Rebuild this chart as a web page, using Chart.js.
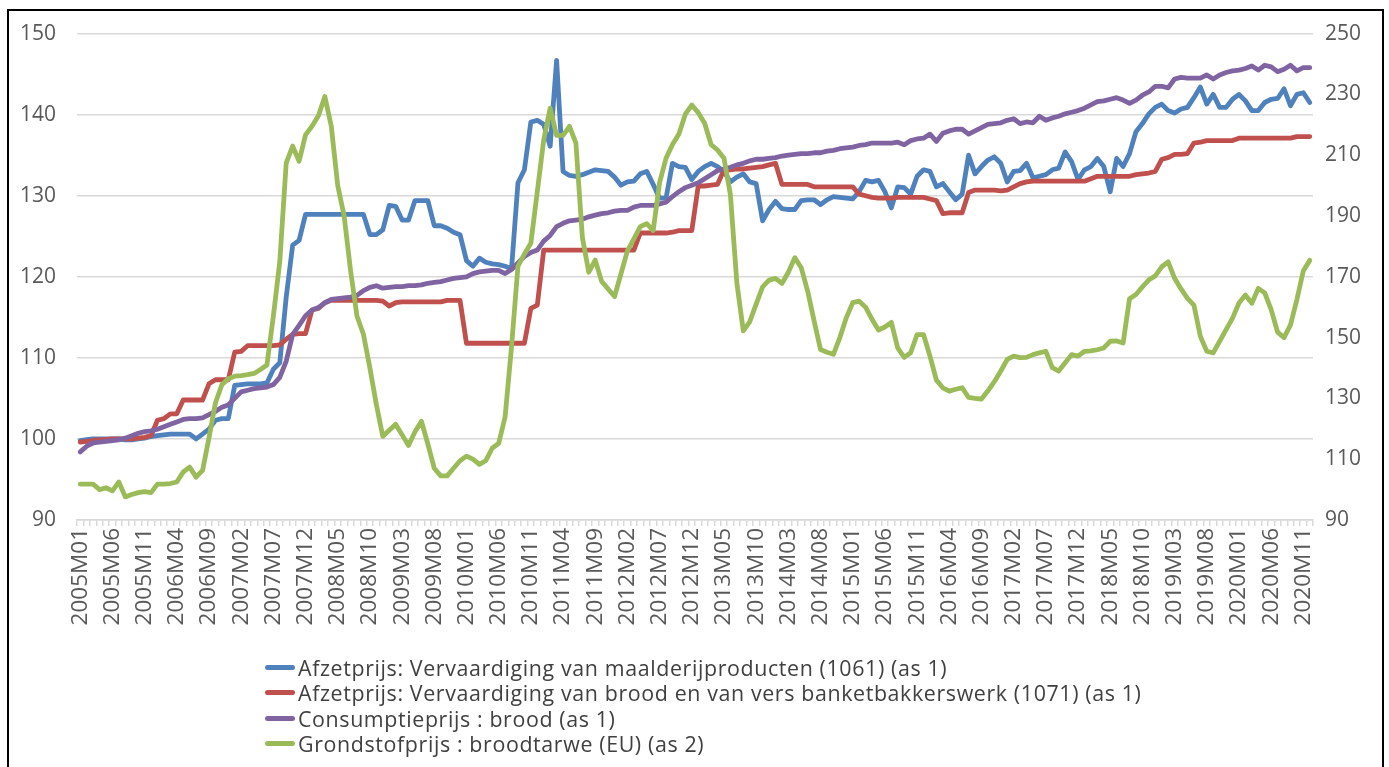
<!DOCTYPE html>
<html><head><meta charset="utf-8">
<script src="https://cdn.jsdelivr.net/npm/chart.js@4.4.1/dist/chart.umd.min.js"></script>
<style>
html,body{margin:0;padding:0;background:#fff;}
#wrap{position:relative;width:1389px;height:767px;overflow:hidden;background:#fff;}
canvas{position:absolute;left:0;top:0;}
#frame{position:absolute;left:7px;top:9px;width:1377px;height:800px;border:2px solid #000;box-sizing:border-box;pointer-events:none;}
#legend{position:absolute;left:265px;top:655px;font-family:'Open Sans',sans-serif;font-size:21.4px;letter-spacing:0.62px;color:#404040;}
.row{display:flex;align-items:center;height:25.3px;white-space:nowrap;}
.sw{width:30px;height:5px;border-radius:3px;margin-right:3px;flex:none;}
</style></head>
<body><div id="wrap"><canvas id="c" width="1389" height="767"></canvas><div id="frame"></div><div id="legend"></div></div>
<script>
// Categories: monthly 2005M01 .. 2020M12
const years = [2005,2006,2007,2008,2009,2010,2011,2012,2013,2014,2015,2016,2017,2018,2019,2020];
const monthCodes = ['M01','M02','M03','M04','M05','M06','M07','M08','M09','M10','M11','M12'];
const categories = [];
years.forEach(y => monthCodes.forEach(m => categories.push(y + m)));

// Tick labels shown on the x axis
const tickLabels = ['2005M01','2005M06','2005M11','2006M04','2006M09','2007M02','2007M07','2007M12','2008M05','2008M10','2009M03','2009M08','2010M01','2010M06','2010M11','2011M04','2011M09','2012M02','2012M07','2012M12','2013M05','2013M10','2014M03','2014M08','2015M01','2015M06','2015M11','2016M04','2016M09','2017M02','2017M07','2017M12','2018M05','2018M10','2019M03','2019M08','2020M01','2020M06','2020M11'];

const seriesNames = [
  'Afzetprijs: Vervaardiging van maalderijproducten (1061) (as 1)',
  'Afzetprijs: Vervaardiging van brood en van vers banketbakkerswerk (1071) (as 1)',
  'Consumptieprijs : brood (as 1)',
  'Grondstofprijs : broodtarwe (EU) (as 2)'
];
const seriesColors = ['#4f81bd','#c0504d','#8064a2','#9bbb59'];

// Afzetprijs maalderijproducten (left axis)
const afzetMaalderij = [
 99.8,99.9,100.0,100.0,100.0,100.0,100.0,99.9,99.9,100.0,100.1,100.3,
 100.4,100.5,100.6,100.6,100.6,100.6,100.0,100.6,101.2,102.3,102.5,102.5,
 106.6,106.7,106.8,106.8,106.8,106.9,108.6,109.4,117.5,123.9,124.5,127.7,
 127.7,127.7,127.7,127.7,127.7,127.7,127.7,127.7,127.7,125.2,125.2,125.8,
 128.8,128.7,127.0,127.0,129.4,129.4,129.4,126.3,126.3,126.0,125.5,125.2,
 122.0,121.3,122.3,121.8,121.6,121.5,121.3,121.0,131.6,133.2,139.1,139.3,
 138.8,136.1,146.7,133.0,132.5,132.4,132.6,132.9,133.2,133.1,133.0,132.3,
 131.3,131.7,131.8,132.7,133.0,131.4,129.7,129.7,134.0,133.6,133.5,132.0,
 133.0,133.6,134.0,133.6,133.0,131.7,132.3,132.7,131.7,131.5,126.9,128.3,
 129.3,128.4,128.3,128.3,129.4,129.5,129.5,128.9,129.5,129.9,129.8,129.7,
 129.6,130.5,131.9,131.7,131.9,130.5,128.5,131.1,131.0,130.2,132.4,133.2,
 133.0,131.1,131.5,130.5,129.5,130.2,135.0,132.7,133.6,134.4,134.8,134.0,
 131.7,133.0,133.1,134.0,132.2,132.4,132.6,133.2,133.4,135.4,134.2,132.0,
 133.2,133.6,134.6,133.6,130.5,134.6,133.6,135.2,137.9,138.9,140.1,140.9,
 141.3,140.5,140.2,140.7,140.9,142.1,143.4,141.3,142.5,140.9,140.9,141.9,
 142.5,141.7,140.5,140.5,141.5,141.9,142.0,143.2,141.1,142.5,142.7,141.5
];

// Afzetprijs brood en vers banketbakkerswerk (left axis)
const afzetBrood = [
 99.6,99.7,99.8,99.9,99.9,100.0,100.0,100.0,100.0,100.1,100.2,100.4,
 102.3,102.5,103.1,103.1,104.8,104.8,104.8,104.8,106.8,107.3,107.3,107.3,
 110.7,110.8,111.5,111.5,111.5,111.5,111.5,111.6,112.3,112.9,113.0,113.0,
 115.9,116.1,116.8,117.1,117.1,117.1,117.1,117.1,117.1,117.1,117.1,117.0,
 116.4,116.8,116.9,116.9,116.9,116.9,116.9,116.9,116.9,117.1,117.1,117.1,
 111.8,111.8,111.8,111.8,111.8,111.8,111.8,111.8,111.8,111.8,116.1,116.5,
 123.3,123.3,123.3,123.3,123.3,123.3,123.3,123.3,123.3,123.3,123.3,123.3,
 123.3,123.3,123.3,125.4,125.4,125.4,125.4,125.4,125.5,125.7,125.7,125.7,
 131.2,131.2,131.3,131.4,133.2,133.2,133.3,133.3,133.4,133.5,133.6,133.8,
 134.0,131.4,131.4,131.4,131.4,131.4,131.1,131.1,131.1,131.1,131.1,131.1,
 131.1,130.2,130.0,129.8,129.7,129.7,129.7,129.8,129.8,129.8,129.8,129.8,
 129.6,129.4,127.8,127.9,127.9,127.9,130.4,130.7,130.7,130.7,130.7,130.6,
 130.7,131.1,131.5,131.7,131.8,131.8,131.8,131.8,131.8,131.8,131.8,131.8,
 131.8,132.1,132.4,132.4,132.4,132.4,132.4,132.4,132.6,132.7,132.8,133.0,
 134.5,134.7,135.1,135.1,135.2,136.5,136.6,136.8,136.8,136.8,136.8,136.8,
 137.1,137.1,137.1,137.1,137.1,137.1,137.1,137.1,137.1,137.3,137.3,137.3
];

// Consumptieprijs brood (left axis)
const consumptieBrood = [
 98.4,99.1,99.5,99.6,99.7,99.8,99.9,100.1,100.4,100.7,100.9,101.0,
 101.2,101.5,101.8,102.1,102.4,102.5,102.5,102.6,103.0,103.4,103.9,104.2,
 105.0,105.8,106.0,106.2,106.3,106.4,106.7,107.6,109.6,112.9,114.0,115.2,
 115.9,116.2,116.8,117.2,117.3,117.4,117.5,117.7,118.3,118.7,118.9,118.6,
 118.7,118.8,118.8,118.9,118.9,119.0,119.2,119.3,119.4,119.6,119.8,119.9,
 120.0,120.4,120.6,120.7,120.8,120.8,120.4,120.9,121.7,122.5,123.0,123.3,
 124.4,125.1,126.2,126.6,126.9,127.0,127.1,127.4,127.6,127.8,127.9,128.1,
 128.2,128.2,128.6,128.8,128.8,128.8,129.0,129.2,129.9,130.5,131.0,131.3,
 131.6,132.1,132.6,133.1,133.3,133.5,133.8,134.0,134.3,134.5,134.5,134.6,
 134.7,134.9,135.0,135.1,135.2,135.2,135.3,135.3,135.5,135.6,135.8,135.9,
 136.0,136.2,136.3,136.5,136.5,136.5,136.5,136.6,136.3,136.8,137.0,137.1,
 137.6,136.7,137.7,138.0,138.2,138.2,137.6,138.0,138.4,138.8,138.9,139.0,
 139.3,139.5,138.9,139.1,139.0,139.8,139.3,139.6,139.8,140.1,140.3,140.5,
 140.8,141.2,141.6,141.7,141.9,142.1,141.8,141.4,141.8,142.4,142.8,143.5,
 143.5,143.3,144.4,144.6,144.5,144.5,144.5,144.9,144.4,144.9,145.2,145.4,
 145.5,145.7,146.0,145.5,146.1,145.9,145.3,145.6,146.1,145.4,145.8,145.8
];

// Grondstofprijs broodtarwe EU (right axis)
const grondstofTarwe = [
 101.8,101.8,101.8,100.0,100.6,99.6,102.5,97.6,98.4,99.0,99.3,99.0,
 101.8,101.8,102.0,102.5,105.8,107.4,104.1,106.3,117.0,128.5,134.5,136.5,
 137.3,137.5,137.8,138.2,139.5,141.0,157.0,175.0,207.5,213.0,208.0,216.7,
 219.5,223.0,229.3,219.5,200.0,190.0,172.0,157.0,151.0,140.0,128.0,117.5,
 119.5,121.5,118.0,114.5,119.0,122.5,115.0,107.0,104.5,104.5,107.0,109.5,
 111.0,110.0,108.3,109.5,113.6,115.2,123.9,147.0,173.5,177.5,181.0,198.0,
 215.0,225.5,216.5,216.5,219.5,214.0,183.0,171.5,175.5,168.5,166.0,163.5,
 171.0,178.5,182.5,186.5,187.5,185.2,201.0,209.0,213.5,217.0,223.5,226.5,
 224.0,220.5,213.5,211.7,209.0,197.0,168.0,152.2,155.2,161.0,166.7,168.9,
 169.5,167.8,171.5,176.3,173.0,165.3,155.5,146.1,145.2,144.5,150.0,156.5,
 161.5,162.0,160.0,156.0,152.5,153.5,155.0,146.5,143.5,145.0,151.0,151.0,
 143.9,136.0,133.5,132.4,133.0,133.5,130.3,130.0,129.8,132.5,135.5,139.0,
 142.8,143.9,143.4,143.5,144.4,145.0,145.5,140.1,139.0,141.7,144.4,143.9,
 145.5,145.6,146.0,146.6,148.8,148.9,148.2,162.8,164.2,166.7,169.0,170.3,
 173.3,174.9,169.5,166.0,162.9,160.7,150.4,145.5,145.0,148.8,152.6,156.4,
 161.4,164.0,161.3,166.2,164.7,159.2,151.8,150.0,154.2,162.5,172.0,175.4
];

const leftTicks = {min:90, max:150, step:10};
const rightTicks = {min:90, max:250, step:20};

const tickSet = new Set(tickLabels);
const gridColor = '#d9d9d9';
const yFont = {family:'Open Sans', size:21};
const xFont = {family:'Open Sans', size:22.5};
const tickColor = '#595959';

const seriesData = [afzetMaalderij, afzetBrood, consumptieBrood, grondstofTarwe];
const axisIds = ['y','y','y','y2'];

new Chart(document.getElementById('c'), {
  type:'line',
  data:{
    labels: categories,
    datasets: seriesData.map((d,k)=>({
      label: seriesNames[k], data: d, borderColor: seriesColors[k], backgroundColor: seriesColors[k],
      yAxisID: axisIds[k], order: 4-k, fill:false
    }))
  },
  options:{
    responsive:false, animation:false,
    layout:{padding:{top:30,left:0,right:0,bottom:0}},
    elements:{point:{radius:0,hoverRadius:0}, line:{borderWidth:4.8, tension:0, borderCapStyle:'round', borderJoinStyle:'round'}},
    plugins:{legend:{display:false}, tooltip:{enabled:false}},
    scales:{
      x:{
        offset:true,
        grid:{display:true, drawOnChartArea:false, drawTicks:true, tickLength:6, color:gridColor, lineWidth:1.5, offset:true},
        border:{display:true, color:gridColor, width:1.5},
        ticks:{autoSkip:false, minRotation:90, maxRotation:90, padding:2, color:tickColor, font:xFont,
          callback:(v,i)=> tickSet.has(categories[i]) ? categories[i] : ''},
        afterFit(s){ s.height = 247; }
      },
      y:{
        position:'left', min:leftTicks.min, max:leftTicks.max,
        ticks:{stepSize:leftTicks.step, padding:21, color:tickColor, font:yFont},
        grid:{color:gridColor, lineWidth:1.5, drawTicks:false},
        border:{display:false},
        afterFit(s){ s.width = 77; }
      },
      y2:{
        position:'right', min:rightTicks.min, max:rightTicks.max,
        ticks:{stepSize:rightTicks.step, padding:12, color:tickColor, font:yFont},
        grid:{drawOnChartArea:false, drawTicks:false},
        border:{display:false},
        afterFit(s){ s.width = 76; }
      }
    }
  }
});

// Legend (HTML, real text)
const lg = document.getElementById('legend');
seriesNames.forEach((n,k)=>{
  const r = document.createElement('div'); r.className='row';
  const sw = document.createElement('span'); sw.className='sw'; sw.style.background = seriesColors[k];
  const t = document.createElement('span'); t.textContent = n;
  r.appendChild(sw); r.appendChild(t); lg.appendChild(r);
});
</script>
</body></html>
